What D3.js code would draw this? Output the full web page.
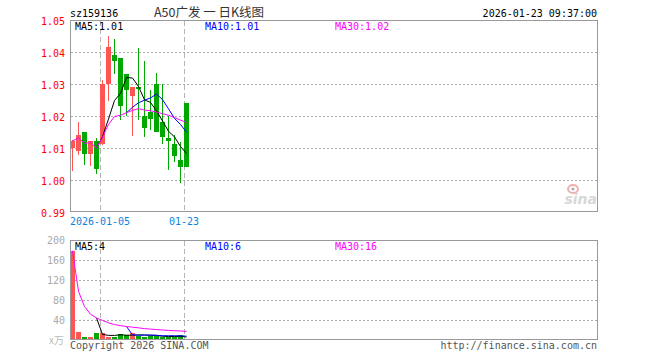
<!DOCTYPE html>
<html><head><meta charset="utf-8">
<script src="https://cdn.jsdelivr.net/npm/d3@7/dist/d3.min.js"></script>
<style>
html,body{margin:0;padding:0;background:#fff;}
svg{display:block;}
text{font-family:"DejaVu Sans Mono",monospace;font-size:10px;}
</style></head>
<body><svg id="c" width="660" height="360"></svg>
<script>
// ---- data ----
const dates = ["2025-12-25","2025-12-26","2025-12-29","2025-12-30","2025-12-31",
  "2026-01-05","2026-01-06","2026-01-07","2026-01-08","2026-01-09",
  "2026-01-12","2026-01-13","2026-01-14","2026-01-15","2026-01-16",
  "2026-01-19","2026-01-20","2026-01-21","2026-01-22","2026-01-23"];
const opens  = [1.0101,1.0092,1.0150,1.0082,1.0122,1.0113,1.0300,1.0391,1.0381,1.0331,
                1.0263,1.0292,1.0200,1.0211,1.0300,1.0180,1.0132,1.0113,1.0063,1.0242];
const highs  = [1.0124,1.0181,1.0150,1.0122,1.0131,1.0312,1.0450,1.0441,1.0381,1.0331,
                1.0292,1.0413,1.0372,1.0280,1.0335,1.0301,1.0200,1.0140,1.0120,1.0242];
const lows   = [1.0029,1.0077,1.0047,1.0045,1.0019,1.0108,1.0248,1.0330,1.0189,1.0200,
                1.0138,1.0187,1.0135,1.0155,1.0151,1.0113,1.0030,1.0057,0.9990,1.0040];
const closes = [1.0122,1.0141,1.0082,1.0122,1.0033,1.0300,1.0415,1.0373,1.0232,1.0282,
                1.0291,1.0284,1.0163,1.0192,1.0151,1.0133,1.0123,1.0074,1.0042,1.0042];
const volumes = [178.6,16,6,6,14,14,6,6,12,10,14,8.6,6,8.6,8.6,6,6,6,10,2.6];
const priceTicks = [1.05,1.04,1.03,1.02,1.01,1.00,0.99];
const volTicks = [200,160,120,80,40];
const priceMaLabels = ["MA5:1.01","MA10:1.01","MA30:1.02"];
const volMaLabels = ["MA5:4","MA10:6","MA30:16"];
const maColors = ["#000000","#0000ff","#ff00ff"];
const dateLabelIdx = [5,19];
const dateLabelText = ["2026-01-05","01-23"];
const symbol = "sz159136";
const title = "A50广发 一 日K线图";
const stamp = "2026-01-23 09:37:00";

const RED = "#ff5555", GREEN = "#00a800";
const svg = d3.select("#c");
const N = dates.length;
const x = d3.scaleBand().domain(d3.range(88)).range([70, 598]).paddingInner(0).align(0);
const cw = x.bandwidth() - 1;
const cx = i => x(i) + cw / 2;
const y = d3.scaleLinear().domain([0.99, 1.05]).range([212, 20]);
const yv = d3.scaleLinear().domain([0, 200]).range([340, 240]);

function maN(arr, n) {
  return arr.map((v, i) => i < n - 1 ? null : d3.mean(arr.slice(i - n + 1, i + 1)));
}
function maCum(arr, n) {
  return arr.map((v, i) => d3.mean(arr.slice(Math.max(0, i - n + 1), i + 1)));
}

// ---- header texts ----
svg.append("text").attr("x", 70).attr("y", 16.5).attr("fill", "#000").text(symbol);
svg.append("text").attr("x", 209).attr("y", 17).attr("text-anchor", "middle")
  .attr("fill", "#333").style("font-family", "'Noto Sans CJK SC',sans-serif").style("font-size", "12.5px").text(title);
svg.append("text").attr("x", 597).attr("y", 16.5).attr("text-anchor", "end").attr("fill", "#000").text(stamp);

// ---- main panel grid ----
const gMain = svg.append("g");
gMain.selectAll("line.g").data(priceTicks.slice(1, -1)).join("line")
  .attr("x1", 71).attr("x2", 597).attr("y1", d => Math.round(y(d)) + 0.5).attr("y2", d => Math.round(y(d)) + 0.5)
  .attr("stroke", "#aaa").attr("stroke-dasharray", "2,2");
gMain.selectAll("text.t").data(priceTicks).join("text")
  .attr("x", 65).attr("y", d => y(d) + 4.5).attr("text-anchor", "end").attr("fill", "#ff0000")
  .text(d => d.toFixed(2));

// date separators
[[21, 211], [241, 339]].forEach(([a, b]) => {
  svg.append("g").selectAll("line").data(dateLabelIdx).join("line")
    .attr("x1", d => x(d) + 0.5).attr("x2", d => x(d) + 0.5).attr("y1", a).attr("y2", b)
    .attr("stroke", "#b4b4b4").attr("stroke-dasharray", "5,3");
});
svg.selectAll("text.dl").data(dateLabelIdx).join("text").attr("class", "dl")
  .attr("x", d => x(d)).attr("y", 225).attr("text-anchor", "middle").attr("fill", "#0a84e0")
  .text((d, k) => dateLabelText[k]);

// sina logo
const logo = svg.append("g").attr("opacity", 0.55);
logo.append("ellipse").attr("cx", 573).attr("cy", 189).attr("rx", 5).attr("ry", 4)
  .attr("fill", "none").attr("stroke", "#e07070").attr("stroke-width", 2);
logo.append("circle").attr("cx", 573).attr("cy", 189).attr("r", 1.5).attr("fill", "#666");
logo.append("text").attr("x", 597).attr("y", 204).attr("text-anchor", "end")
  .style("font-family", "'DejaVu Sans',sans-serif").style("font-size", "14px").style("font-style", "italic").style("font-weight", "bold")
  .attr("fill", "#b8b8b8").text("sina");

// candles
const cg = svg.append("g").attr("shape-rendering", "crispEdges");
const idx = d3.range(N);
cg.selectAll("line.w").data(idx).join("line")
  .attr("x1", i => x(i) + 2.5).attr("x2", i => x(i) + 2.5)
  .attr("y1", i => y(highs[i])).attr("y2", i => y(lows[i]))
  .attr("stroke", i => closes[i] >= opens[i] ? RED : GREEN);
cg.selectAll("rect.b").data(idx).join("rect")
  .attr("x", i => x(i)).attr("width", cw)
  .attr("y", i => y(Math.max(opens[i], closes[i])))
  .attr("height", i => Math.max(1, Math.abs(y(opens[i]) - y(closes[i]))))
  .attr("fill", i => closes[i] >= opens[i] ? RED : GREEN);

// MA lines main
const mas = [maN(closes, 5), maN(closes, 10), maCum(closes, 30)];
const lineP = d3.line().defined(d => d.v != null).x(d => cx(d.i)).y(d => y(d.v));
mas.forEach((m, k) => {
  svg.append("path").datum(m.map((v, i) => ({i, v})))
    .attr("d", lineP).attr("fill", "none").attr("stroke", maColors[k]).attr("stroke-width", 1);
});

// main border
svg.append("rect").attr("x", 70.5).attr("y", 20.5).attr("width", 527).attr("height", 191)
  .attr("fill", "none").attr("stroke", "#999");
svg.selectAll("text.mh").data(priceMaLabels).join("text").attr("class", "mh")
  .attr("x", (d, k) => 75 + k * 130).attr("y", 29.5).attr("fill", (d, k) => maColors[k]).text(d => d);

// ---- volume panel ----
svg.selectAll("line.vg").data(volTicks.slice(1)).join("line").attr("class", "vg")
  .attr("x1", 71).attr("x2", 597).attr("y1", d => yv(d) + 0.5).attr("y2", d => yv(d) + 0.5)
  .attr("stroke", "#aaa").attr("stroke-dasharray", "2,2");
svg.selectAll("text.vt").data(volTicks).join("text").attr("class", "vt")
  .attr("x", 65).attr("y", d => yv(d) + 4).attr("text-anchor", "end").attr("fill", "#aaa").text(d => d);
svg.append("text").attr("x", 64).attr("y", 344).attr("text-anchor", "end").attr("fill", "#bbb")
  .style("font-family", "'Noto Sans CJK SC',sans-serif").style("font-size", "10px").text("x万");

svg.append("g").attr("shape-rendering", "crispEdges").selectAll("rect").data(idx).join("rect")
  .attr("x", i => x(i)).attr("width", cw)
  .attr("y", i => yv(volumes[i])).attr("height", i => yv(0) - yv(volumes[i]))
  .attr("fill", i => closes[i] >= opens[i] ? RED : GREEN);

const vmas = [maN(volumes, 5), maN(volumes, 10), maCum(volumes, 30)];
const lineV = d3.line().defined(d => d.v != null).x(d => cx(d.i)).y(d => yv(d.v));
vmas.forEach((m, k) => {
  svg.append("path").datum(m.map((v, i) => ({i, v})))
    .attr("d", lineV).attr("fill", "none").attr("stroke", maColors[k]).attr("stroke-width", 1);
});
svg.append("rect").attr("x", 70.5).attr("y", 240.5).attr("width", 527).attr("height", 99)
  .attr("fill", "none").attr("stroke", "#999");
svg.selectAll("text.vh").data(volMaLabels).join("text").attr("class", "vh")
  .attr("x", (d, k) => 75 + k * 130).attr("y", 249.5).attr("fill", (d, k) => maColors[k]).text(d => d);

// footer
svg.append("text").attr("x", 70).attr("y", 349).attr("fill", "#555").text("Copyright 2026 SINA.COM");
svg.append("text").attr("x", 597).attr("y", 349).attr("text-anchor", "end").attr("fill", "#555").text("http://finance.sina.com.cn");
</script>
</body></html>
